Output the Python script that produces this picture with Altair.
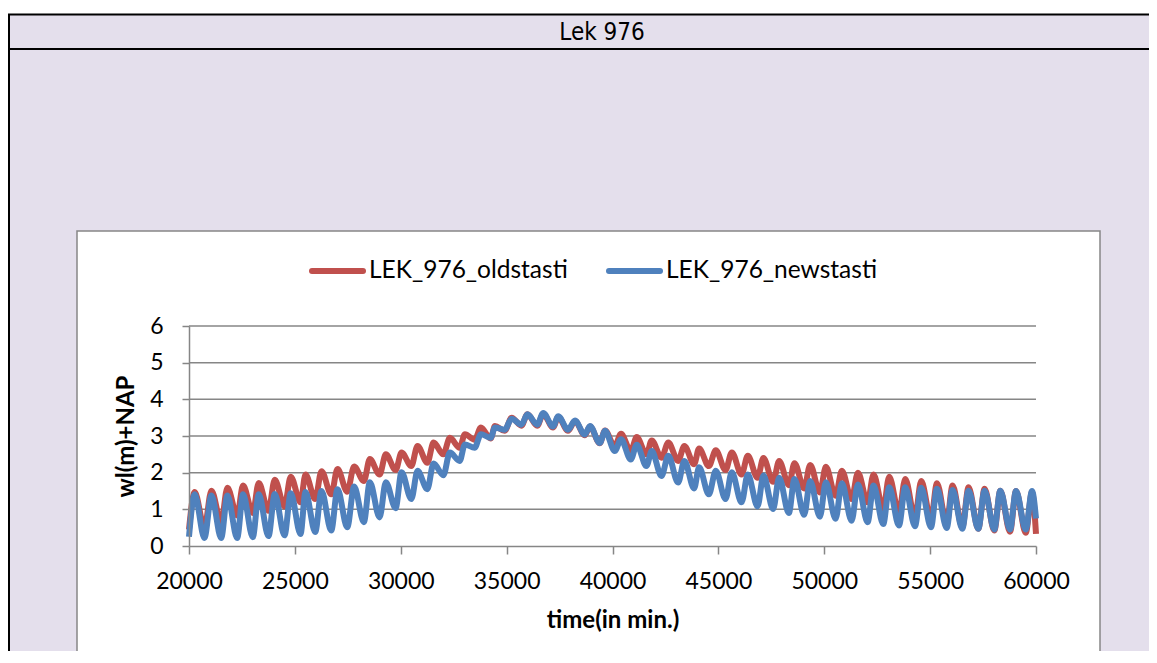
import altair as alt
import pandas as pd

SERIES = ["LEK_976_oldstasti", "LEK_976_newstasti"]
COLORS = ["#C0504D", "#4F81BD"]
X_TICKS = [20000, 25000, 30000, 35000, 40000, 45000, 50000, 55000, 60000]
Y_TICKS = [0, 1, 2, 3, 4, 5, 6]
GRID_VALUES = [1, 2, 3, 4, 5, 6]

start_t, end_t = 20000, 60000
peak_t = [20269, 21059, 21815, 22552, 23294, 24050, 24806, 25501, 26257, 27013, 27798,
          28540, 29296, 30038, 30794, 31550, 32321, 33030, 33786, 34447, 35237, 35983,
          36730, 37439, 38228, 38937, 39646, 40402, 41144, 41853, 42637, 43394, 44089,
          44878, 45634, 46390, 47127, 47869, 48592, 49334, 50076, 50832, 51589,
          52326, 53068, 53824, 54580, 55322, 56059, 56815, 57572, 58314, 59056, 59812]
trough_t = [20729, 21519, 22275, 23012, 23754, 24510, 25266, 25961, 26717, 27473, 28258,
            29000, 29756, 30498, 31254, 32010, 32781, 33490, 34246, 34907, 35697, 36443,
            37190, 37899, 38688, 39397, 40106, 40862, 41604, 42313, 43097, 43854, 44549,
            45338, 46094, 46850, 47587, 48329, 49052, 49794, 50536, 51292, 52049,
            52786, 53528, 54284, 55040, 55782, 56519, 57275, 58032, 58774, 59516]

old_start, old_end = 0.45, 0.33
old_peaks = [1.47, 1.51, 1.59, 1.65, 1.72, 1.81, 1.89, 1.95, 2.04, 2.10, 2.17,
             2.37, 2.50, 2.55, 2.73, 2.82, 2.95, 3.05, 3.23, 3.27, 3.50, 3.59,
             3.60, 3.52, 3.41, 3.26, 3.15, 3.06, 2.97, 2.88, 2.82, 2.73, 2.66,
             2.61, 2.55, 2.46, 2.40, 2.32, 2.26, 2.21, 2.16, 2.05, 2.00,
             1.95, 1.89, 1.83, 1.77, 1.71, 1.65, 1.60, 1.56, 1.51, 1.50, 1.47]
old_troughs = [0.50, 0.65, 0.83, 0.90, 0.96, 1.08, 1.19, 1.28, 1.41, 1.48,
               1.77, 1.95, 2.07, 2.18, 2.27, 2.50, 2.68, 2.90, 2.93, 3.14, 3.28,
               3.28, 3.23, 3.14, 3.02, 2.80, 2.72, 2.59, 2.50, 2.41, 2.32, 2.23,
               2.18, 2.07, 1.95, 1.86, 1.75, 1.66, 1.57, 1.46, 1.37, 1.28, 1.19,
               1.01, 0.90, 0.78, 0.72, 0.60, 0.51, 0.47, 0.42, 0.39, 0.36]

new_start, new_end = 0.25, 0.75
new_peaks = [1.41, 1.38, 1.38, 1.41, 1.41, 1.42, 1.44, 1.47, 1.50, 1.55, 1.62,
             1.74, 1.74, 2.01, 2.05, 2.25, 2.55, 2.77, 3.05, 3.23, 3.47, 3.59,
             3.63, 3.54, 3.42, 3.27, 3.14, 2.91, 2.76, 2.59, 2.46, 2.32, 2.15,
             2.05, 2.01, 1.95, 1.92, 1.86, 1.83, 1.77, 1.74, 1.71, 1.68,
             1.65, 1.60, 1.60, 1.59, 1.56, 1.53, 1.51, 1.51, 1.51, 1.50, 1.50]
new_troughs = [0.22, 0.22, 0.22, 0.24, 0.27, 0.29, 0.33, 0.38, 0.42, 0.51,
               0.65, 0.78, 1.03, 1.28, 1.55, 1.93, 2.32, 2.68, 2.95, 3.17, 3.31,
               3.31, 3.26, 3.17, 3.04, 2.81, 2.59, 2.36, 2.18, 1.91, 1.73, 1.57,
               1.41, 1.28, 1.19, 1.08, 1.01, 0.90, 0.85, 0.80, 0.74, 0.69, 0.65,
               0.60, 0.56, 0.54, 0.51, 0.49, 0.47, 0.47, 0.45, 0.45, 0.45]

assert len(peak_t) == len(old_peaks) == len(new_peaks) == 54
assert len(trough_t) == len(old_troughs) == len(new_troughs) == 53


def build(name, start, peaks, troughs, end):
    ts, vs = [start_t], [start]
    for i, p in enumerate(peaks):
        ts.append(peak_t[i]); vs.append(p)
        if i < len(troughs):
            ts.append(trough_t[i]); vs.append(troughs[i])
    ts.append(end_t); vs.append(end)
    return pd.DataFrame({"time": ts, "wl": vs, "series": name})


old_df = build(SERIES[0], old_start, old_peaks, old_troughs, old_end)
new_df = build(SERIES[1], new_start, new_peaks, new_troughs, new_end)

W, H = 847, 220
GRAY = "#868686"
LAV = "#E4DFEC"
FONT = "Lato"

x_scale = alt.Scale(domain=[20000, 60000], nice=False, zero=False)
y_scale = alt.Scale(domain=[0, 6], nice=False, zero=False)
color_scale = alt.Scale(domain=SERIES, range=COLORS)

x_axis = alt.Axis(values=X_TICKS, format="d", title="time(in min.)", grid=False,
                  labelFont=FONT, labelFontSize=23, labelColor="black", labelPadding=16,
                  labelFlush=False, labelOverlap=False,
                  tickSize=8, tickColor=GRAY, tickWidth=1.5,
                  domainColor=GRAY, domainWidth=1.5,
                  titleFont=FONT, titleFontSize=24, titleFontWeight="bold", titleColor="black",
                  titleY=74, titleBaseline="middle", zindex=1)
y_axis = alt.Axis(values=Y_TICKS, format="d", title="wl(m)+NAP", grid=False,
                  labelFont=FONT, labelFontSize=23, labelColor="black", labelPadding=19,
                  tickSize=7, tickColor=GRAY, tickWidth=1.5,
                  domainColor=GRAY, domainWidth=1.5,
                  titleFont=FONT, titleFontSize=24, titleFontWeight="bold", titleColor="black",
                  titleX=-63, titleY=110, titleAngle=270, titleAlign="center",
                  titleBaseline="middle", zindex=1)

one = alt.Data(values=[{"k": 1}])

bg = alt.Chart(one).mark_rect(color=LAV).encode(
    x=alt.value(-181), x2=alt.value(980), y=alt.value(-312), y2=alt.value(420))
top_line = alt.Chart(one).mark_rule(color="black", strokeWidth=2).encode(
    x=alt.value(-181), x2=alt.value(980), y=alt.value(-311.5))
head_line = alt.Chart(one).mark_rule(color="black", strokeWidth=2).encode(
    x=alt.value(-181), x2=alt.value(980), y=alt.value(-277))
left_line = alt.Chart(one).mark_rule(color="black", strokeWidth=2).encode(
    x=alt.value(-180), y=alt.value(-312), y2=alt.value(420))
title = alt.Chart(one).mark_text(text="Lek 976", font="Liberation Sans Narrow, DejaVu Sans Condensed, Liberation Sans",
                                 fontSize=24, color="black", align="center", baseline="middle").encode(
    x=alt.value(413), y=alt.value(-293))
box = alt.Chart(one).mark_rect(fill="white", stroke=GRAY, strokeWidth=1.5).encode(
    x=alt.value(-112), x2=alt.value(911), y=alt.value(-95), y2=alt.value(420))

leg_old_line = alt.Chart(one).mark_rule(color=COLORS[0], strokeWidth=6, strokeCap="round").encode(
    x=alt.value(123), x2=alt.value(174), y=alt.value(-55))
leg_old_text = alt.Chart(one).mark_text(text=SERIES[0], font=FONT, fontSize=24.5, color="black",
                                        align="left", baseline="middle").encode(
    x=alt.value(180), y=alt.value(-55))
leg_new_line = alt.Chart(one).mark_rule(color=COLORS[1], strokeWidth=6, strokeCap="round").encode(
    x=alt.value(420), x2=alt.value(471), y=alt.value(-55))
leg_new_text = alt.Chart(one).mark_text(text=SERIES[1], font=FONT, fontSize=24.5, color="black",
                                        align="left", baseline="middle").encode(
    x=alt.value(477), y=alt.value(-55))

grid = alt.Chart(pd.DataFrame({"g": GRID_VALUES})).mark_rule(color=GRAY, strokeWidth=1.5).encode(
    y=alt.Y("g:Q", scale=y_scale, axis=y_axis), x=alt.value(0), x2=alt.value(W))


def line_layer(df):
    return alt.Chart(df).mark_line(strokeWidth=6, interpolate="monotone", strokeJoin="round").encode(
        x=alt.X("time:Q", scale=x_scale, axis=x_axis),
        y=alt.Y("wl:Q", scale=y_scale, axis=y_axis),
        color=alt.Color("series:N", scale=color_scale, legend=None),
    )


chart = alt.layer(
    bg, top_line, head_line, left_line, title, box,
    leg_old_line, leg_old_text, leg_new_line, leg_new_text,
    grid, line_layer(old_df), line_layer(new_df),
).properties(
    width=W, height=H,
    padding={"left": 181, "top": 318, "right": 113, "bottom": 105},
    autosize=alt.AutoSizeParams(type="none"),
    background="white",
).configure_view(stroke=None, fill=None)

chart.save("out.html", embed_options={"renderer": "svg", "actions": False})
